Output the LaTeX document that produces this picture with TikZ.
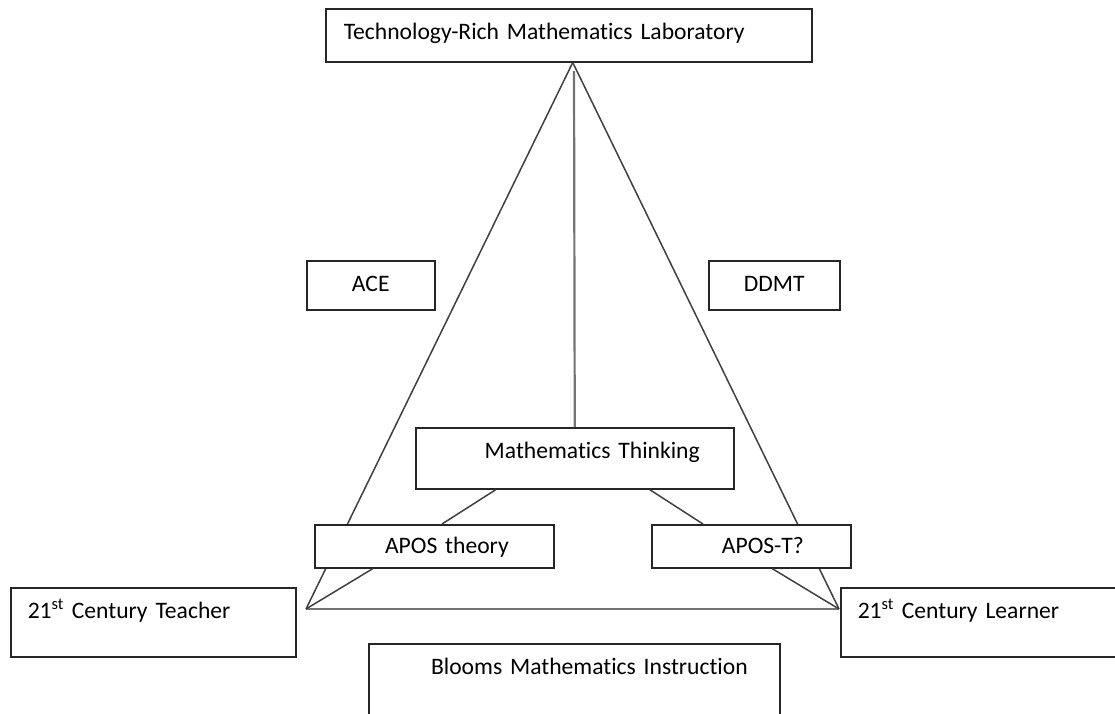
\documentclass[tikz,border=0pt]{standalone}
\usepackage{fontspec}
\setmainfont{Carlito}[Ligatures=NoCommon, WordSpace=0.8]

\begin{document}
\begin{tikzpicture}[x=1pt, y=-1pt,
		font=\fontsize{23.6}{28}\selectfont,
		box/.style={draw=black!85, line width=1.5pt, fill=white, anchor=north west, inner ysep=0pt, text height=31pt},
		link/.style={draw=black!75, line width=1.5pt}]
		%%%%% START %%%%%
		
		\useasboundingbox (0, 0) rectangle (1115, 713);
		
		\node[box, text width=450pt, inner xsep=18pt, align=left, text depth=22pt] (lab) at (325, 8) {Technology-Rich Mathematics Laboratory};
		
		\coordinate (apex) at ([xshift=4pt]lab.south);
		\coordinate (vtop) at (574, 71);
		\coordinate (lv) at (306, 609);
		\coordinate (rv) at (839, 609);
		
		\draw[link] (apex) -- (lv);
		\draw[link] (apex) -- (rv);
		\draw[draw=black!55, line width=2.2pt] (lv) -- (rv);
		
		\node[box, text width=128pt, inner xsep=0pt, align=center, text depth=18pt] (ace) at (306, 260) {ACE};
		\node[box, text width=131pt, inner xsep=0pt, align=center, text depth=18pt] (ddmt) at (708, 260) {DDMT};
		
		\node[box, text width=250pt, inner xsep=34pt, align=right, text depth=30pt] (mt) at (415, 427) {Mathematics Thinking};
		\draw[draw=black!55, line width=2.2pt] (vtop) -- (mt.north);
		
		\node[box, text width=149pt, inner xsep=45pt, align=right, text height=29pt, text depth=14pt] (apos) at (314, 524) {APOS theory};
		\node[box, text width=105pt, inner xsep=47pt, align=right, text height=29pt, text depth=14pt] (apost) at (651, 524) {APOS-T?};
		
		\draw[link] ([xshift=81pt]mt.south west) -- ([xshift=128pt]apos.north west);
		\draw[link] ([xshift=-85pt]mt.south east) -- ([xshift=52pt]apost.north west);
		\draw[link] ([xshift=59pt]apos.south west) -- (lv);
		\draw[link] ([xshift=121pt]apost.south west) -- (rv);
		
		\node[box, text width=251pt, inner xsep=17pt, align=left, text depth=38pt] (teacher) at (10, 587) {21\textsuperscript{st} Century Teacher};
		\node[box, text width=266pt, inner xsep=17pt, align=left, text depth=38pt] (learner) at (840, 587) {21\textsuperscript{st} Century Learner};
		
		\node[box, text width=347pt, inner xsep=32pt, align=right, text depth=46pt] (blooms) at (368, 643) {Blooms Mathematics Instruction};
		
		%%%%% END %%%%%
\end{tikzpicture}
\end{document}
